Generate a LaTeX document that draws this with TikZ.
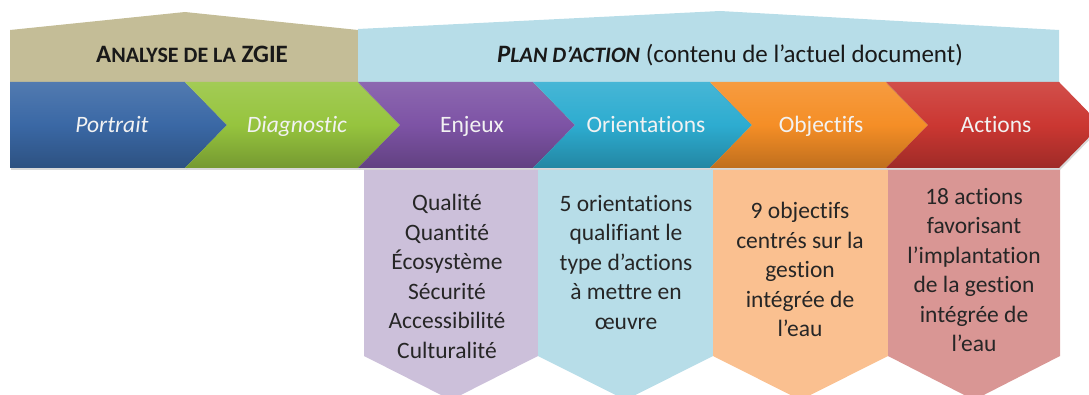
\documentclass[tikz,border=0pt]{standalone}
\usepackage{fontspec}
\setmainfont{Carlito}[Ligatures=CommonOff]
\usetikzlibrary{shadows}

\definecolor{tanhead}{RGB}{196,189,151}
\definecolor{bluehead}{RGB}{183,221,232}
\definecolor{portraitc}{RGB}{58,104,165}
\definecolor{diagc}{RGB}{150,196,62}
\definecolor{enjeuxc}{RGB}{125,83,165}
\definecolor{orientc}{RGB}{45,172,208}
\definecolor{objectc}{RGB}{245,142,38}
\definecolor{actionc}{RGB}{203,55,50}
\definecolor{enjeuxl}{RGB}{204,192,218}
\definecolor{orientl}{RGB}{183,221,232}
\definecolor{objectl}{RGB}{250,192,144}
\definecolor{actionl}{RGB}{217,150,148}

\newcommand{\petitcap}[1]{{\fontsize{22}{22}\selectfont #1}}

\begin{document}
\begin{tikzpicture}[x=1pt,y=-1pt]
	\tikzstyle{headtext} = [font=\fontsize{25}{28}\selectfont, text=black!90, inner sep=0, anchor=base]
	\tikzstyle{chevtext} = [font=\fontsize{23.5}{28}\selectfont, text=white!95!black, inner sep=0, anchor=base]
	\tikzstyle{boxtext} = [font=\fontsize{23.5}{29.5}\selectfont, text=black!85, align=center, inner sep=0, anchor=north]
	\tikzset{chev/.style={top color=#1!88!white, bottom color=#1!78!black, middle color=#1,
			drop shadow={opacity=0.3, shadow xshift=1pt, shadow yshift=-2pt}}}

	\useasboundingbox (0,0) rectangle (1089,395);

	% en-tetes
	\fill [tanhead] (10,83) -- (10,30) -- (185,12) -- (358,30) -- (358,83) -- cycle;
	\fill [bluehead] (358,83) -- (358,29) -- (720,11) -- (1059,30) -- (1059,83) -- cycle;
	\node [headtext] (analyse) at (192,63) {\textbf{A\petitcap{NALYSE DE LA} ZGIE}};
	\node [headtext] (plan) at (730,63) {\textbf{\itshape P\petitcap{LAN D’ACTION}} (contenu de l’actuel document)};

	% cases du bas
	\fill [enjeuxl] (364,170) -- (538,170) -- (538,356) -- (451,400) -- (364,356) -- cycle;
	\fill [orientl] (538,170) -- (713,170) -- (713,356) -- (625.5,400) -- (538,356) -- cycle;
	\fill [objectl] (713,170) -- (888,170) -- (888,356) -- (800.5,400) -- (713,356) -- cycle;
	\fill [actionl] (888,170) -- (1060,170) -- (1060,356) -- (974,400) -- (888,356) -- cycle;
	\node [boxtext] (enjeux_1) at (447,194) {Qualité\\Quantité\\Écosystème\\Sécurité\\Accessibilité\\Culturalité};
	\node [boxtext] (orientations_1) at (626,195) {5 orientations\\qualifiant le\\type d’actions\\à mettre en\\œuvre};
	\node [boxtext] (objectifs_1) at (800,202) {9 objectifs\\centrés sur la\\gestion\\intégrée de\\l’eau};
	\node [boxtext] (actions_1) at (974,188) {18 actions\\favorisant\\l’implantation\\de la gestion\\intégrée de\\l’eau};

	% chevrons
	\shade [chev=portraitc] (10,82) -- (185,82) -- (227,125) -- (185,168) -- (10,168) -- cycle;
	\shade [chev=diagc] (185,82) -- (358,82) -- (400,125) -- (358,168) -- (185,168) -- (227,125) -- cycle;
	\shade [chev=enjeuxc] (358,82) -- (533,82) -- (575,125) -- (533,168) -- (358,168) -- (400,125) -- cycle;
	\shade [chev=orientc] (533,82) -- (710,82) -- (752,125) -- (710,168) -- (533,168) -- (575,125) -- cycle;
	\shade [chev=objectc] (710,82) -- (886,82) -- (928,125) -- (886,168) -- (710,168) -- (752,125) -- cycle;
	\shade [chev=actionc] (886,82) -- (1059,82) -- (1101,125) -- (1059,168) -- (886,168) -- (928,125) -- cycle;
	\node [chevtext] (portrait) at (112,133) {\itshape Portrait};
	\node [chevtext] (diagnostic) at (297,133) {\itshape Diagnostic};
	\node [chevtext] (enjeux) at (472,133) {Enjeux};
	\node [chevtext] (orientations) at (646,133) {Orientations};
	\node [chevtext] (objectifs) at (821,133) {Objectifs};
	\node [chevtext] (actions) at (996,133) {Actions};
\end{tikzpicture}
\end{document}
